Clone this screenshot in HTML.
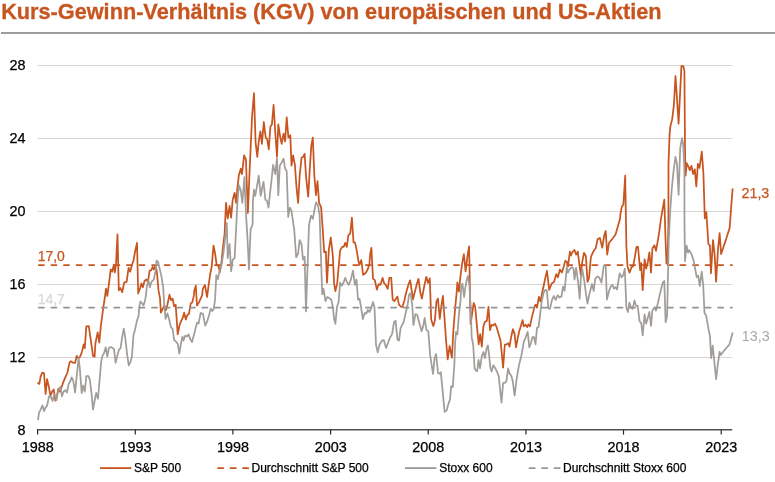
<!DOCTYPE html>
<html><head><meta charset="utf-8"><title>KGV</title>
<style>
html,body{margin:0;padding:0;background:#fff}
body{width:775px;height:482px;overflow:hidden;position:relative;font-family:"Liberation Sans",Arial,sans-serif}
h1{position:absolute;left:1.2px;top:-0.5px;margin:0;font-size:21.7px;line-height:24px;font-weight:bold;color:#c8551f;white-space:nowrap;letter-spacing:0px;-webkit-text-stroke:0.3px #c8551f}
.rule{position:absolute;left:1px;top:31.8px;width:774px;height:2.2px;background:#9e9e9e}
svg{position:absolute;left:0;top:0}
svg text{font-family:"Liberation Sans",Arial,sans-serif;font-size:14.4px;fill:#000;stroke:#000;stroke-width:0.25px}
</style></head><body>
<h1>Kurs-Gewinn-Verhältnis (KGV) von europäischen und US-Aktien</h1>
<div class="rule"></div>
<svg width="775" height="482" viewBox="0 0 775 482">
<line x1="37.6" x2="732.2" y1="357.50" y2="357.50" stroke="#d8d6d4" stroke-width="1"/><line x1="37.6" x2="732.2" y1="284.50" y2="284.50" stroke="#d8d6d4" stroke-width="1"/><line x1="37.6" x2="732.2" y1="211.50" y2="211.50" stroke="#d8d6d4" stroke-width="1"/><line x1="37.6" x2="732.2" y1="138.50" y2="138.50" stroke="#d8d6d4" stroke-width="1"/><line x1="37.6" x2="732.2" y1="65.50" y2="65.50" stroke="#d8d6d4" stroke-width="1"/>
<path d="M38.1,383.1 L39.3,383.9 L40.6,376.9 L42.1,372.7 L44.0,373.0 L45.6,394.0 L47.1,379.2 L48.7,386.2 L50.5,395.6 L52.1,391.7 L53.7,389.4 L55.4,400.7 L56.8,396.4 L58.3,388.6 L59.9,391.7 L61.9,386.2 L63.5,381.6 L65.5,376.9 L67.3,373.0 L69.7,362.1 L70.8,361.3 L72.8,362.6 L75.1,362.9 L76.7,355.9 L78.2,358.2 L80.1,356.7 L82.1,351.2 L83.7,344.3 L84.8,348.1 L86.3,326.4 L88.8,326.1 L90.4,337.3 L93.0,355.9 L94.6,356.7 L95.4,343.5 L97.7,332.3 L99.3,342.7 L100.8,326.4 L103.2,308.5 L104.7,298.4 L106.0,288.7 L107.3,296.0 L109.0,283.4 L110.7,269.4 L112.3,271.7 L113.8,264.7 L114.9,272.5 L116.0,263.9 L117.5,234.3 L118.8,290.4 L120.3,288.0 L122.2,292.2 L124.2,282.6 L126.6,281.8 L128.6,267.8 L130.2,271.7 L131.7,265.8 L133.6,260.0 L135.1,251.5 L137.0,242.9 L138.2,293.5 L140.1,288.0 L141.4,283.4 L142.9,287.3 L144.5,281.0 L146.3,279.5 L147.9,281.8 L149.6,270.9 L151.2,270.1 L152.7,267.0 L153.8,269.4 L155.4,265.2 L156.9,271.7 L158.5,290.4 L160.0,298.1 L160.9,312.6 L162.8,308.7 L164.3,305.6 L166.0,310.2 L167.4,304.8 L169.5,294.7 L171.0,300.1 L172.6,298.6 L174.1,306.3 L175.7,304.8 L177.7,334.4 L179.6,325.0 L181.1,321.1 L182.7,318.0 L184.2,312.6 L185.8,319.6 L187.3,314.9 L188.9,314.1 L190.8,303.2 L192.3,302.4 L193.9,295.4 L194.3,290.4 L195.8,285.7 L197.0,305.6 L199.0,302.4 L200.6,298.6 L202.1,295.4 L202.8,288.8 L204.9,284.9 L207.1,297.0 L208.6,285.4 L210.1,274.5 L211.7,266.7 L213.5,245.7 L215.1,253.5 L216.7,265.1 L218.4,265.9 L219.9,272.1 L221.5,262.0 L223.0,246.5 L224.6,234.0 L226.0,202.9 L227.7,218.5 L229.6,206.0 L231.1,217.7 L232.7,199.8 L234.6,192.8 L236.1,202.9 L237.3,188.9 L238.9,174.9 L240.8,168.7 L242.0,174.1 L244.1,155.4 L245.9,159.3 L247.9,213.0 L249.5,173.3 L252.1,115.8 L254.0,93.2 L255.6,142.3 L257.3,157.0 L258.7,141.5 L260.4,131.4 L261.9,143.8 L263.8,122.0 L265.7,137.6 L267.2,139.1 L268.8,149.3 L270.4,126.7 L271.9,124.4 L273.6,104.9 L275.2,131.4 L277.0,157.0 L278.3,124.4 L280.2,136.8 L281.7,143.8 L283.6,133.7 L285.1,141.5 L286.7,117.3 L288.4,137.6 L290.3,135.2 L291.5,165.6 L293.1,155.4 L294.9,164.8 L296.5,187.3 L298.1,202.9 L299.6,176.5 L301.5,157.8 L303.0,157.0 L304.6,153.9 L306.1,177.2 L308.2,196.7 L309.7,170.2 L311.3,145.4 L312.8,137.6 L314.4,176.5 L315.9,195.1 L317.5,181.1 L319.1,202.9 L321.1,207.1 L322.7,228.9 L324.2,252.3 L325.8,251.5 L327.0,282.6 L328.9,249.1 L330.8,237.5 L332.8,255.4 L334.1,283.4 L335.4,291.1 L337.2,283.4 L340.1,250.7 L342.1,246.8 L343.7,246.8 L345.2,242.9 L346.8,246.8 L348.4,235.1 L350.2,233.6 L351.9,217.7 L353.5,242.1 L355.1,242.9 L356.6,249.9 L358.5,261.6 L359.6,264.7 L361.3,260.0 L363.1,274.8 L365.5,273.2 L367.8,269.3 L369.4,263.9 L370.2,253.8 L371.4,247.9 L373.0,278.7 L374.8,280.2 L376.9,289.6 L378.7,284.1 L380.3,284.9 L382.6,277.9 L384.2,283.4 L385.7,284.9 L387.7,288.8 L389.3,277.9 L391.2,277.9 L392.7,299.7 L394.3,301.2 L397.4,296.6 L398.9,304.4 L400.8,306.7 L402.4,307.0 L404.4,300.5 L405.9,293.5 L408.3,284.9 L410.2,280.4 L413.0,299.3 L416.9,283.8 L418.5,278.8 L420.4,293.1 L421.9,298.6 L424.4,285.4 L426.3,276.8 L428.1,283.0 L429.8,278.4 L431.2,319.6 L433.3,326.1 L434.8,321.1 L436.4,301.7 L437.9,298.6 L439.8,318.8 L441.4,305.6 L442.9,295.9 L444.5,318.0 L446.0,339.8 L447.7,359.3 L449.6,346.0 L451.9,357.7 L453.5,328.9 L455.1,308.7 L456.6,293.1 L457.4,282.3 L458.9,291.6 L460.5,276.0 L462.1,263.6 L463.9,254.2 L465.6,271.4 L467.5,255.8 L469.1,246.5 L470.6,324.0 L472.1,313.9 L473.7,303.0 L475.2,306.9 L477.1,327.9 L478.7,344.3 L480.2,334.1 L481.8,346.6 L483.4,326.4 L484.9,321.7 L486.8,320.9 L488.5,306.9 L490.0,330.2 L491.6,324.8 L493.1,325.6 L495.0,323.6 L496.6,327.1 L498.9,334.9 L500.5,340.4 L503.1,367.6 L504.8,344.7 L506.7,344.3 L508.2,343.2 L509.5,346.6 L511.1,337.3 L512.9,329.2 L514.5,333.4 L516.0,347.4 L517.6,338.8 L519.1,331.8 L520.7,326.4 L522.6,320.1 L523.8,326.4 L525.7,324.8 L527.2,327.1 L528.5,324.5 L530.0,326.4 L531.6,318.6 L533.1,312.4 L534.7,306.1 L535.8,304.6 L537.0,307.7 L538.9,296.8 L540.5,301.5 L542.0,293.7 L544.0,284.3 L545.6,276.6 L547.0,271.0 L549.2,289.8 L551.7,283.5 L554.0,281.9 L556.3,274.1 L557.9,277.3 L559.9,269.5 L561.8,272.6 L563.4,267.9 L565.2,260.9 L566.8,261.7 L568.0,266.4 L569.9,251.6 L570.8,255.5 L572.7,251.6 L574.5,250.0 L576.1,254.7 L577.8,251.6 L579.2,263.2 L580.8,274.9 L582.3,261.7 L584.0,252.8 L585.9,256.2 L587.5,281.9 L589.0,278.0 L590.9,257.0 L592.6,253.1 L594.2,250.0 L595.7,248.5 L597.6,239.1 L599.9,238.0 L602.3,247.7 L604.1,236.0 L605.7,231.0 L607.2,254.7 L609.0,243.0 L610.8,240.7 L612.8,238.3 L615.5,234.5 L617.8,226.7 L620.2,218.1 L620.2,215.4 L621.8,206.8 L623.4,204.5 L625.2,175.7 L626.4,246.1 L627.5,266.4 L629.5,272.6 L631.5,267.1 L633.1,266.4 L634.6,258.6 L636.5,246.9 L638.0,246.9 L640.1,270.2 L641.2,263.2 L642.7,290.2 L644.6,259.4 L646.1,268.7 L647.9,261.7 L649.4,252.3 L651.0,272.6 L652.4,248.5 L654.4,245.3 L656.0,250.8 L657.8,240.9 L659.3,231.6 L660.9,219.1 L662.8,208.2 L664.3,199.7 L665.6,241.7 L666.5,263.5 L667.4,263.5 L668.4,226.1 L668.5,163.9 L669.6,134.3 L670.4,126.2 L672.2,119.1 L673.9,105.1 L675.5,76.0 L677.0,98.9 L678.6,123.8 L680.2,91.1 L681.4,66.2 L683.3,66.2 L684.4,70.9 L685.1,156.1 L685.6,175.6 L686.7,163.1 L688.2,166.2 L689.8,170.1 L691.4,165.8 L693.2,174.0 L694.8,169.4 L696.3,186.5 L697.9,163.9 L699.5,167.8 L701.8,151.5 L703.4,173.2 L704.8,218.3 L706.3,212.1 L708.4,244.0 L709.9,245.6 L711.0,273.2 L713.0,240.1 L714.6,254.1 L716.1,281.8 L718.0,249.5 L719.6,233.1 L721.1,254.1 L723.1,247.9 L726.3,238.6 L729.7,227.7 L730.9,210.6 L732.6,189.1" fill="none" stroke="#c8551f" stroke-width="1.75" stroke-linejoin="round" stroke-linecap="round"/>
<line x1="38.8" x2="732" y1="265.1" y2="265.1" stroke="#c8551f" stroke-width="1.8" stroke-linecap="round" stroke-dasharray="5.1 7.48"/>
<path d="M38.1,419.4 L39.0,412.7 L40.6,409.6 L42.5,405.4 L44.0,411.1 L45.6,407.3 L47.1,405.7 L49.0,396.4 L51.0,397.1 L52.6,401.0 L54.1,394.8 L55.2,395.6 L56.5,400.2 L58.0,391.7 L60.4,386.7 L61.9,396.4 L63.5,391.7 L65.5,390.1 L67.0,392.5 L68.6,383.9 L70.2,381.6 L71.7,377.4 L73.3,380.8 L75.1,392.5 L76.7,376.1 L78.6,358.2 L79.8,368.4 L81.7,393.2 L83.2,385.5 L84.8,391.7 L86.3,376.1 L88.4,376.1 L89.9,380.0 L91.5,393.2 L93.0,409.6 L94.6,401.0 L96.2,392.9 L98.0,398.7 L99.6,380.0 L101.1,362.1 L102.4,355.9 L103.9,353.6 L105.8,347.3 L107.3,356.7 L108.9,348.1 L110.9,346.9 L112.5,348.1 L114.0,348.9 L115.6,362.9 L117.2,355.9 L119.0,349.7 L120.6,348.1 L122.1,337.3 L123.8,328.7 L125.2,337.3 L127.3,355.9 L128.8,365.5 L130.4,362.1 L131.9,356.7 L133.5,334.9 L135.1,329.5 L136.9,320.9 L138.5,316.2 L139.4,306.1 L140.5,301.5 L142.4,303.8 L143.6,305.4 L145.5,298.4 L147.0,285.9 L148.4,280.2 L149.9,287.3 L151.5,281.8 L153.8,279.5 L155.4,271.7 L156.6,260.5 L158.2,262.4 L160.0,270.1 L161.6,277.1 L163.2,287.3 L164.3,305.6 L165.6,318.8 L167.4,313.4 L169.0,318.8 L171.0,327.4 L172.6,328.9 L174.1,339.8 L175.7,341.4 L177.7,343.7 L179.3,353.5 L180.8,344.5 L182.4,336.7 L183.5,340.6 L185.0,335.9 L187.0,336.4 L188.6,334.4 L190.2,339.0 L192.0,342.1 L193.9,335.1 L195.4,328.9 L197.0,322.7 L198.6,323.5 L200.6,313.0 L202.9,313.7 L205.2,325.5 L207.3,321.1 L209.1,314.9 L210.7,308.7 L212.3,311.0 L213.8,308.7 L215.1,299.3 L216.3,275.2 L217.9,279.1 L219.5,271.4 L221.5,265.1 L223.3,254.2 L224.9,240.2 L226.5,226.2 L226.8,223.2 L227.7,258.1 L229.6,244.1 L231.1,271.4 L232.7,259.7 L234.6,258.1 L236.1,229.3 L237.3,204.5 L238.9,185.0 L240.8,190.5 L242.3,202.9 L244.4,177.2 L245.9,212.3 L247.5,238.7 L249.0,269.5 L250.6,229.3 L252.6,224.7 L252.9,201.4 L254.0,189.7 L255.2,195.9 L256.8,187.3 L258.7,175.7 L260.7,195.9 L262.3,187.3 L263.5,181.9 L265.4,199.8 L266.9,200.6 L268.5,207.6 L270.0,193.6 L271.6,179.6 L273.1,164.8 L275.2,174.1 L277.0,158.6 L278.3,195.1 L279.8,165.6 L281.7,162.4 L283.6,158.6 L285.1,168.7 L286.7,171.0 L288.2,216.9 L289.8,207.6 L291.4,210.7 L294.2,229.3 L296.2,257.4 L298.1,253.5 L299.6,240.2 L301.5,244.1 L303.0,259.7 L304.6,256.6 L306.0,311.4 L309.0,225.0 L311.0,215.7 L312.9,218.8 L314.4,210.2 L316.1,202.4 L318.0,205.6 L319.6,214.9 L322.2,294.2 L323.5,288.8 L325.5,301.2 L327.4,297.0 L329.2,298.1 L331.2,299.7 L332.8,306.7 L334.1,319.1 L335.4,323.8 L337.0,306.7 L338.6,302.0 L340.1,282.6 L341.7,285.7 L343.4,283.0 L345.2,277.9 L346.8,281.8 L348.7,284.9 L350.7,280.2 L353.0,270.6 L354.9,284.9 L356.5,279.5 L358.0,299.7 L359.6,298.9 L361.1,307.5 L362.8,319.1 L364.7,312.9 L366.3,313.7 L367.8,309.8 L369.4,312.1 L370.9,309.0 L373.0,302.0 L374.5,307.5 L376.0,344.5 L377.7,352.3 L379.6,344.5 L381.9,340.6 L383.8,340.1 L386.1,347.9 L388.1,342.9 L390.0,337.5 L392.0,334.4 L394.1,321.9 L395.6,320.8 L397.5,339.8 L399.0,340.6 L400.6,328.1 L403.7,321.9 L405.6,313.4 L407.6,304.8 L409.1,294.7 L410.7,293.1 L412.3,305.6 L413.4,325.0 L415.4,314.1 L417.2,314.9 L419.3,322.7 L421.6,331.2 L423.1,326.6 L424.7,318.0 L426.3,329.7 L428.3,331.2 L430.2,355.4 L433.0,373.8 L434.6,358.2 L436.1,354.0 L438.0,373.0 L439.6,373.8 L440.8,372.2 L442.7,391.7 L444.6,411.9 L446.6,410.4 L448.1,404.9 L450.0,399.5 L451.2,386.2 L452.8,387.0 L454.4,363.7 L455.1,342.9 L456.1,332.0 L457.4,334.4 L458.9,314.9 L460.5,300.9 L461.3,285.4 L462.4,283.8 L464.1,297.0 L465.2,288.5 L466.7,279.9 L467.8,276.0 L469.3,284.3 L470.6,306.1 L471.7,337.3 L473.2,345.0 L474.6,368.4 L476.1,370.7 L477.2,371.1 L478.5,359.8 L480.0,368.4 L481.9,355.9 L483.5,352.0 L485.0,358.2 L486.6,348.1 L487.9,345.5 L488.9,353.6 L490.5,368.4 L491.7,371.5 L493.3,365.2 L495.3,368.4 L497.2,372.2 L498.7,376.1 L500.0,388.6 L501.5,402.6 L503.1,383.1 L505.2,382.7 L506.5,380.8 L508.1,368.4 L509.6,373.8 L511.2,375.4 L512.7,380.8 L514.6,395.6 L516.6,379.2 L519.0,365.2 L521.3,355.9 L523.8,341.9 L525.7,337.3 L527.7,331.8 L529.3,347.4 L530.8,343.5 L532.4,337.3 L533.9,336.9 L535.5,344.3 L537.0,327.9 L538.6,327.1 L540.2,313.9 L541.7,301.5 L543.6,292.9 L545.3,289.8 L546.9,290.6 L548.4,308.5 L550.0,308.9 L551.8,300.7 L553.7,296.0 L555.7,299.9 L557.7,295.2 L559.6,297.6 L561.5,296.5 L563.0,286.7 L564.6,290.6 L565.8,278.1 L566.8,267.1 L568.0,272.6 L569.9,268.7 L571.9,267.1 L573.5,268.7 L574.5,279.6 L576.1,267.9 L578.1,281.9 L579.7,298.8 L580.8,278.8 L582.3,269.5 L584.4,281.9 L585.9,293.4 L587.5,303.5 L589.5,293.4 L592.1,284.0 L593.7,291.0 L595.2,278.8 L597.3,276.5 L599.1,277.3 L601.5,282.7 L603.8,265.6 L605.7,265.6 L606.9,299.6 L609.3,290.2 L610.8,286.3 L612.4,284.8 L613.9,288.7 L615.5,287.1 L617.0,289.5 L618.3,281.7 L619.7,273.4 L621.7,277.3 L623.3,274.9 L624.8,268.7 L626.4,307.4 L627.9,312.0 L629.5,302.7 L631.0,307.4 L632.6,308.9 L634.5,300.4 L636.0,305.8 L637.7,305.8 L639.6,321.4 L641.2,322.9 L642.7,335.4 L644.6,314.4 L646.1,323.7 L647.7,318.2 L649.4,312.0 L651.0,326.0 L652.4,310.5 L654.4,307.4 L656.0,310.5 L657.8,303.5 L659.3,296.6 L661.2,288.8 L662.8,282.6 L664.3,281.0 L665.6,322.3 L667.1,316.0 L668.7,241.7 L670.2,210.6 L671.9,187.3 L673.5,171.7 L675.5,156.9 L677.0,163.9 L678.6,195.0 L680.2,148.3 L682.0,138.2 L683.3,145.2 L684.4,171.7 L684.5,226.1 L685.0,261.1 L686.6,245.6 L688.1,252.6 L689.2,250.2 L691.2,253.4 L693.6,260.4 L695.1,268.6 L696.7,277.1 L698.2,275.6 L699.8,286.1 L701.7,271.7 L703.2,284.9 L704.5,312.9 L706.0,315.2 L707.6,323.8 L708.4,328.6 L709.9,335.6 L711.2,358.1 L712.7,345.7 L714.6,364.4 L716.1,379.1 L718.0,362.8 L719.6,351.9 L720.8,355.0 L723.1,351.9 L726.3,348.0 L729.4,344.6 L730.9,338.7 L732.5,333.2" fill="none" stroke="#a19d99" stroke-width="1.75" stroke-linejoin="round" stroke-linecap="round"/>
<line x1="38.8" x2="732" y1="307.6" y2="307.6" stroke="#949494" stroke-width="1.8" stroke-linecap="round" stroke-dasharray="5.1 7.48"/>
<line x1="37.0" x2="732.2" y1="429.8" y2="429.8" stroke="#505050" stroke-width="1.4"/>
<line x1="37.6" x2="37.6" y1="429.8" y2="434.6" stroke="#2a2a2a" stroke-width="1.2"/><line x1="135.3" x2="135.3" y1="429.8" y2="434.6" stroke="#2a2a2a" stroke-width="1.2"/><line x1="232.9" x2="232.9" y1="429.8" y2="434.6" stroke="#2a2a2a" stroke-width="1.2"/><line x1="330.6" x2="330.6" y1="429.8" y2="434.6" stroke="#2a2a2a" stroke-width="1.2"/><line x1="428.2" x2="428.2" y1="429.8" y2="434.6" stroke="#2a2a2a" stroke-width="1.2"/><line x1="525.9" x2="525.9" y1="429.8" y2="434.6" stroke="#2a2a2a" stroke-width="1.2"/><line x1="623.5" x2="623.5" y1="429.8" y2="434.6" stroke="#2a2a2a" stroke-width="1.2"/><line x1="721.2" x2="721.2" y1="429.8" y2="434.6" stroke="#2a2a2a" stroke-width="1.2"/>
<g><text x="25.4" y="435.0" text-anchor="end">8</text><text x="25.4" y="362.1" text-anchor="end">12</text><text x="25.4" y="289.2" text-anchor="end">16</text><text x="25.4" y="216.2" text-anchor="end">20</text><text x="25.4" y="143.3" text-anchor="end">24</text><text x="25.4" y="70.4" text-anchor="end">28</text></g>
<g><text x="37.7" y="452.2" text-anchor="middle">1988</text><text x="135.4" y="452.2" text-anchor="middle">1993</text><text x="233.0" y="452.2" text-anchor="middle">1998</text><text x="330.7" y="452.2" text-anchor="middle">2003</text><text x="428.3" y="452.2" text-anchor="middle">2008</text><text x="526.0" y="452.2" text-anchor="middle">2013</text><text x="623.6" y="452.2" text-anchor="middle">2018</text><text x="721.3" y="452.2" text-anchor="middle">2023</text></g>
<text x="37.7" y="260.6" style="fill:#c8551f;stroke:#c8551f;font-size:13.9px">17,0</text>
<text x="37.7" y="303.8" style="fill:#d6d6d6;stroke:#d6d6d6;font-size:13.9px">14,7</text>
<text x="741.5" y="198.3" style="fill:#c8551f;stroke:#c8551f;font-size:14.3px">21,3</text>
<text x="741.8" y="341.2" style="fill:#a8a8a8;stroke:none;font-size:14.3px">13,3</text>
<g style="font-size:12px">
<line x1="100" x2="131.3" y1="468.1" y2="468.1" stroke="#c8551f" stroke-width="1.8"/>
<text x="134" y="472.4" style="font-size:12px">S&amp;P 500</text>
<line x1="218" x2="248.3" y1="468.1" y2="468.1" stroke="#c8551f" stroke-width="1.8" stroke-linecap="round" stroke-dasharray="5.3 7.2"/>
<text x="251.5" y="472.4" style="font-size:12px">Durchschnitt S&amp;P 500</text>
<line x1="405" x2="436.4" y1="468.1" y2="468.1" stroke="#9b9794" stroke-width="1.8"/>
<text x="439.2" y="472.4" style="font-size:12px">Stoxx 600</text>
<line x1="529.5" x2="559.8" y1="468.1" y2="468.1" stroke="#989898" stroke-width="1.8" stroke-linecap="round" stroke-dasharray="5.3 7.2"/>
<text x="563" y="472.4" style="font-size:12px">Durchschnitt Stoxx 600</text>
</g>
</svg>
</body></html>
